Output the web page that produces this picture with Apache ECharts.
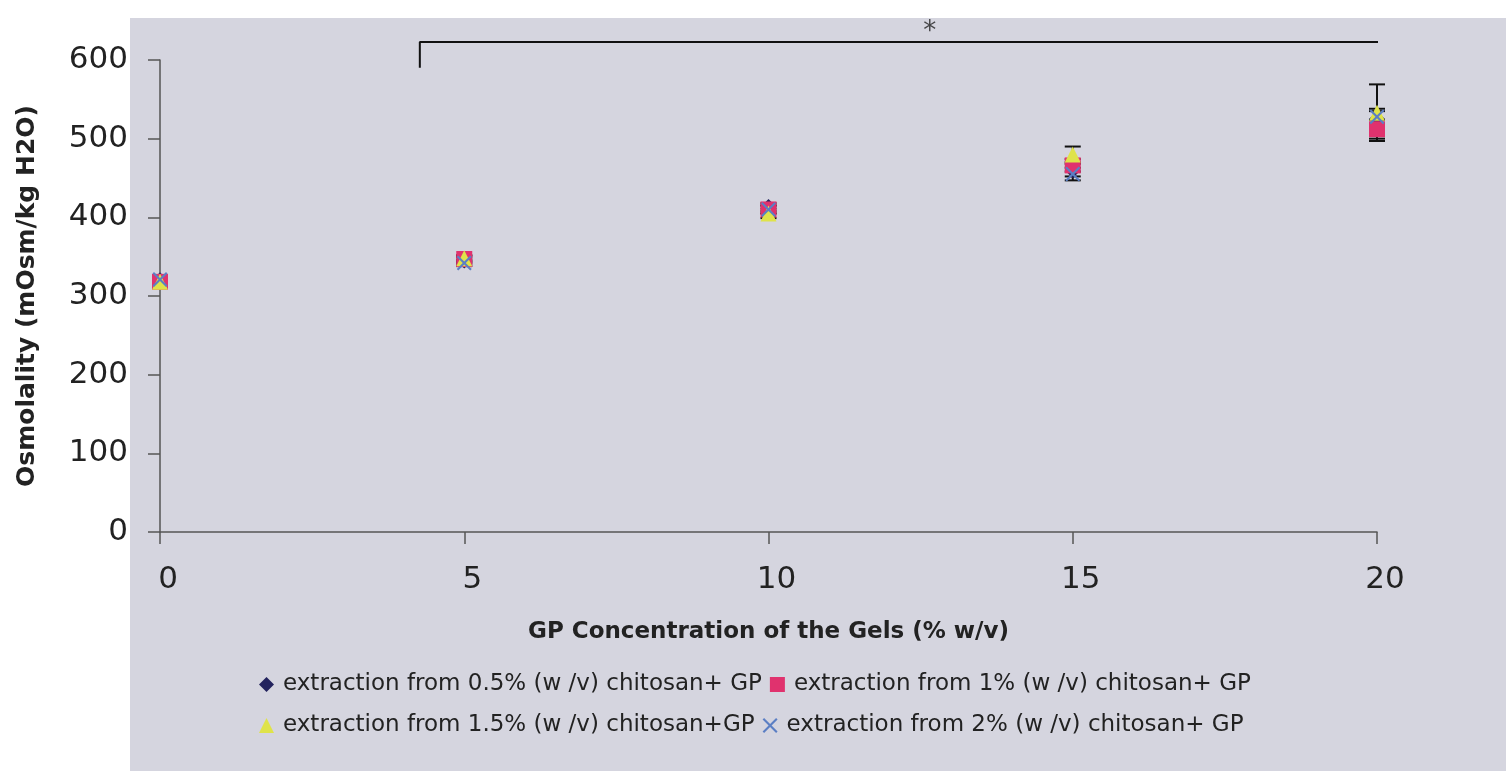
<!DOCTYPE html>
<html>
<head>
<meta charset="utf-8">
<script src="https://cdn.jsdelivr.net/npm/echarts@6/dist/echarts.min.js"></script>
<style>
html,body{margin:0;padding:0;background:#ffffff;}
#chart{width:1506px;height:771px;}
</style>
</head>
<body>
<div id="chart"></div>
<script>
// ---- data ----
const xValues = [0, 5, 10, 15, 20];
const seriesNames = [
  'extraction from 0.5% (w /v) chitosan+ GP',
  'extraction from 1% (w /v) chitosan+ GP',
  'extraction from 1.5% (w /v) chitosan+GP',
  'extraction from 2% (w /v) chitosan+ GP'
];
const s05 = [320, 345, 413, 460, 525];
const s10 = [318, 347, 410, 466, 512];
const s15 = [318, 348, 405, 480, 533];
const s20 = [321, 342, 410, 455, 528];
const e05 = [3, 4, 5, 8, 10];
const e10 = [3, 4, 5, 8, 12];
const e15 = [3, 4, 6, 10, 36];
const e20 = [3, 4, 5, 8, 10];
const yTicks = [0, 100, 200, 300, 400, 500, 600];
const bracketX = [4.27, 4.27, 20.38, 20.38];
const bracketY = [590, 623, 623, 590];
const starPoint = [12.65, 635];

const FONT = 'DejaVu Sans';
const colors = ['#23235e', '#e0326e', '#dfe34a', '#5b7fc4'];
const symbols = [
  'diamond',
  'rect',
  'triangle',
  'path://M1,0 L5,4 L9,0 L10,1 L6,5 L10,9 L9,10 L5,6 L1,10 L0,9 L4,5 L0,1 Z'
];
const vals = [s05, s10, s15, s20];
const errs = [e05, e10, e15, e20];

const chart = echarts.init(document.getElementById('chart'));

const series = [];
// error bars
vals.forEach((v, i) => {
  series.push({
    type: 'custom',
    silent: true,
    z: 1,
    data: xValues.map((x, k) => [x, v[k] - errs[i][k], v[k] + errs[i][k]]),
    renderItem: function (params, api) {
      const lo = api.coord([api.value(0), api.value(1)]);
      const hi = api.coord([api.value(0), api.value(2)]);
      const w = 8;
      const st = {stroke: '#111', lineWidth: 2};
      return {type: 'group', children: [
        {type: 'line', shape: {x1: lo[0], y1: lo[1], x2: hi[0], y2: hi[1]}, style: st},
        {type: 'line', shape: {x1: lo[0]-w, y1: lo[1], x2: lo[0]+w, y2: lo[1]}, style: st},
        {type: 'line', shape: {x1: hi[0]-w, y1: hi[1], x2: hi[0]+w, y2: hi[1]}, style: st}
      ]};
    }
  });
});
vals.forEach((v, i) => {
  series.push({
    name: seriesNames[i],
    type: 'scatter',
    z: 3,
    symbol: symbols[i],
    symbolSize: i === 3 ? 15 : 16,
    itemStyle: {color: colors[i], opacity: 1},
    data: xValues.map((x, k) => [x, v[k]])
  });
});
// significance bracket
series.push({
  type: 'line',
  silent: true,
  clip: false,
  symbol: 'none',
  z: 4,
  lineStyle: {color: '#111', width: 2},
  data: bracketX.map((x, k) => [x, bracketY[k]])
});
series.push({
  type: 'scatter',
  silent: true,
  clip: false,
  symbolSize: 0,
  data: [starPoint],
  label: {show: true, position: 'inside', formatter: '*', fontSize: 26, color: '#222', fontFamily: FONT}
});

const legendText = {fontSize: 23, color: '#222', fontFamily: FONT, padding: [0, 0, 0, 4]};

chart.setOption({
  animation: false,
  backgroundColor: '#ffffff',
  textStyle: {fontFamily: FONT},
  graphic: [{type: 'rect', z: -10, silent: true, shape: {x: 130, y: 18, width: 1376, height: 753}, style: {fill: '#d5d5df'}}],
  grid: {left: 160, right: 129, top: 60, bottom: 239},
  legend: [
    {data: [seriesNames[0], seriesNames[1]], left: 254, top: 668, itemWidth: 15, itemHeight: 15, itemGap: 8, textStyle: legendText},
    {data: [seriesNames[2], seriesNames[3]], left: 254, top: 709, itemWidth: 15, itemHeight: 15, itemGap: 8, textStyle: legendText}
  ],
  xAxis: {
    type: 'value', min: 0, max: 20, interval: 5,
    name: 'GP Concentration of the Gels (% w/v)',
    nameLocation: 'middle', nameGap: 89,
    nameTextStyle: {fontSize: 23, fontWeight: 'bold', color: '#222', fontFamily: FONT},
    axisLine: {lineStyle: {color: '#555', width: 1.5}},
    axisTick: {show: true, inside: false, length: 12, lineStyle: {color: '#555', width: 1.5}},
    axisLabel: {fontSize: 31, color: '#222', margin: 32, padding: [0, 0, 0, 16], fontFamily: FONT},
    splitLine: {show: false}
  },
  yAxis: {
    type: 'value', min: yTicks[0], max: yTicks[yTicks.length - 1], interval: 100,
    name: 'Osmolality (mOsm/kg H2O)',
    nameLocation: 'middle', nameGap: 120,
    nameTextStyle: {fontSize: 25, fontWeight: 'bold', color: '#222', fontFamily: FONT},
    axisLine: {show: true, lineStyle: {color: '#555', width: 1.5}},
    axisTick: {show: true, inside: false, length: 12, lineStyle: {color: '#555', width: 1.5}},
    axisLabel: {fontSize: 31, color: '#222', margin: 32, fontFamily: FONT},
    splitLine: {show: false}
  },
  series: series
});
</script>
</body>
</html>
